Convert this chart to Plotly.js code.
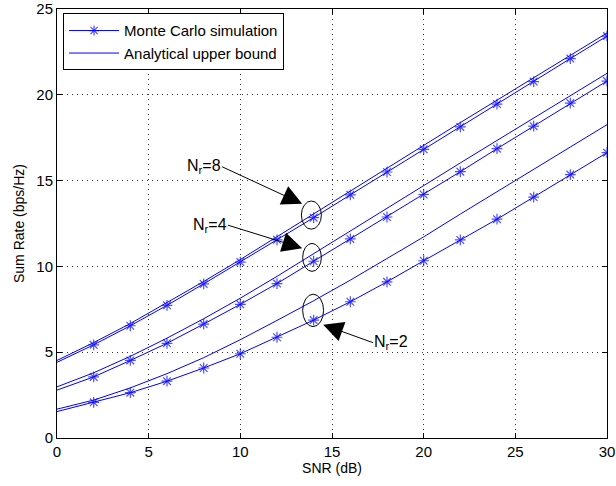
<!DOCTYPE html>
<html>
<head>
<meta charset="utf-8">
<script src="https://cdn.plot.ly/plotly-3.0.1.min.js"></script>
<style>html,body{margin:0;padding:0;background:#fff;}#chart{width:616px;height:486px;}</style>
</head>
<body>
<div id="chart"></div>
<script>
// SNR values (dB)
const snr = [0, 2, 4, 6, 8, 10, 12, 14, 16, 18, 20, 22, 24, 26, 28, 30];

// Monte Carlo simulation (markers from 2 dB on)
const mc8 = [4.41, 5.43, 6.54, 7.73, 8.98, 10.25, 11.55, 12.84, 14.17, 15.5, 16.82, 18.13, 19.46, 20.77, 22.11, 23.42];
const mc4 = [2.79, 3.56, 4.52, 5.52, 6.64, 7.79, 9.0, 10.3, 11.6, 12.88, 14.19, 15.52, 16.86, 18.17, 19.52, 20.8];
const mc2 = [1.54, 2.08, 2.64, 3.31, 4.08, 4.91, 5.87, 6.87, 7.94, 9.1, 10.33, 11.54, 12.75, 14.04, 15.35, 16.63];

// Analytical upper bound
const ub8 = [4.52, 5.56, 6.67, 7.87, 9.12, 10.4, 11.72, 13.04, 14.38, 15.72, 17.05, 18.38, 19.7, 21.0, 22.3, 23.6];
const ub4 = [2.98, 3.8, 4.76, 5.82, 6.95, 8.15, 9.42, 10.75, 12.07, 13.4, 14.72, 16.03, 17.34, 18.64, 19.95, 21.25];
const ub2 = [1.68, 2.21, 2.92, 3.75, 4.68, 5.73, 6.85, 8.0, 9.2, 10.45, 11.72, 13.05, 14.35, 15.65, 16.95, 18.26];

const xTicks = [0, 5, 10, 15, 20, 25, 30];
const yTicks = [0, 5, 10, 15, 20, 25];

const blue = '#0000ff';
const font = 'Liberation Sans, Arial, Helvetica, sans-serif';
const mSizes = snr.map((s, i) => i === 0 ? 0 : 9);

function mcTrace(y, show) {
  return {x: snr, y: y, type: 'scatter', mode: 'lines+markers', name: 'Monte Carlo simulation',
    showlegend: show, line: {color: blue, width: 1},
    marker: {symbol: 'asterisk-open', size: mSizes, color: blue, line: {color: blue, width: 1.2}}};
}
function ubTrace(y, show) {
  return {x: snr, y: y, type: 'scatter', mode: 'lines', name: 'Analytical upper bound',
    showlegend: show, line: {color: blue, width: 1}};
}

const data = [mcTrace(mc8, true), ubTrace(ub8, true), mcTrace(mc4, false), ubTrace(ub4, false), mcTrace(mc2, false), ubTrace(ub2, false)];

const axisCommon = {
  showline: true, linecolor: '#000', linewidth: 1, mirror: 'ticks', ticks: 'inside', ticklen: 5,
  tickcolor: '#000', showgrid: true, gridcolor: '#000', griddash: '1px,4px', gridwidth: 0.8,
  zeroline: false, ticklabeloverflow: 'allow', tickfont: {family: font, size: 15, color: '#000'}
};

const layout = {
  width: 616, height: 486,
  margin: {l: 57, r: 9, t: 9, b: 48},
  paper_bgcolor: '#fff', plot_bgcolor: '#fff',
  font: {family: font, color: '#000'},
  xaxis: Object.assign({}, axisCommon, {range: [0, 30], tickvals: xTicks,
    title: {text: 'SNR (dB)', font: {family: font, size: 14}, standoff: 4}}),
  yaxis: Object.assign({}, axisCommon, {range: [0, 25], tickvals: yTicks,
    title: {text: 'Sum Rate (bps/Hz)', font: {family: font, size: 14}, standoff: 8}}),
  showlegend: true,
  legend: {x: 0.011, y: 0.99, xanchor: 'left', yanchor: 'top', bgcolor: '#fff',
    bordercolor: '#000', borderwidth: 1, font: {family: font, size: 15, color: '#000'},
    tracegroupgap: 0, itemwidth: 50},
  shapes: [
    {type: 'circle', xref: 'x', yref: 'y', x0: 13.33, x1: 14.42, y0: 12.17, y1: 13.81, line: {color: '#000', width: 1}},
    {type: 'circle', xref: 'x', yref: 'y', x0: 13.4, x1: 14.42, y0: 9.71, y1: 11.34, line: {color: '#000', width: 1}},
    {type: 'circle', xref: 'x', yref: 'y', x0: 13.4, x1: 14.54, y0: 6.49, y1: 8.38, line: {color: '#000', width: 1}}
  ],
  annotations: [
    {x: 13.37, y: 13.65, ax: -80, ay: -37, text: 'N<sub>r</sub>=8', xanchor: 'right', yanchor: 'middle',
      showarrow: true, arrowhead: 2, arrowsize: 4, arrowwidth: 1, arrowcolor: '#000', standoff: 0,
      font: {family: font, size: 16, color: '#000'}, borderpad: 0},
    {x: 13.37, y: 11.06, ax: -74, ay: -23, text: 'N<sub>r</sub>=4', xanchor: 'right', yanchor: 'middle',
      showarrow: true, arrowhead: 2, arrowsize: 4, arrowwidth: 1, arrowcolor: '#000', standoff: 0,
      font: {family: font, size: 16, color: '#000'}, borderpad: 0},
    {x: 14.52, y: 6.6, ax: 50, ay: 18, text: 'N<sub>r</sub>=2', xanchor: 'left', yanchor: 'middle',
      showarrow: true, arrowhead: 2, arrowsize: 4, arrowwidth: 1, arrowcolor: '#000', standoff: 0,
      font: {family: font, size: 16, color: '#000'}, borderpad: 0}
  ]
};

Plotly.newPlot('chart', data, layout, {displayModeBar: false, staticPlot: true});
</script>
</body>
</html>
